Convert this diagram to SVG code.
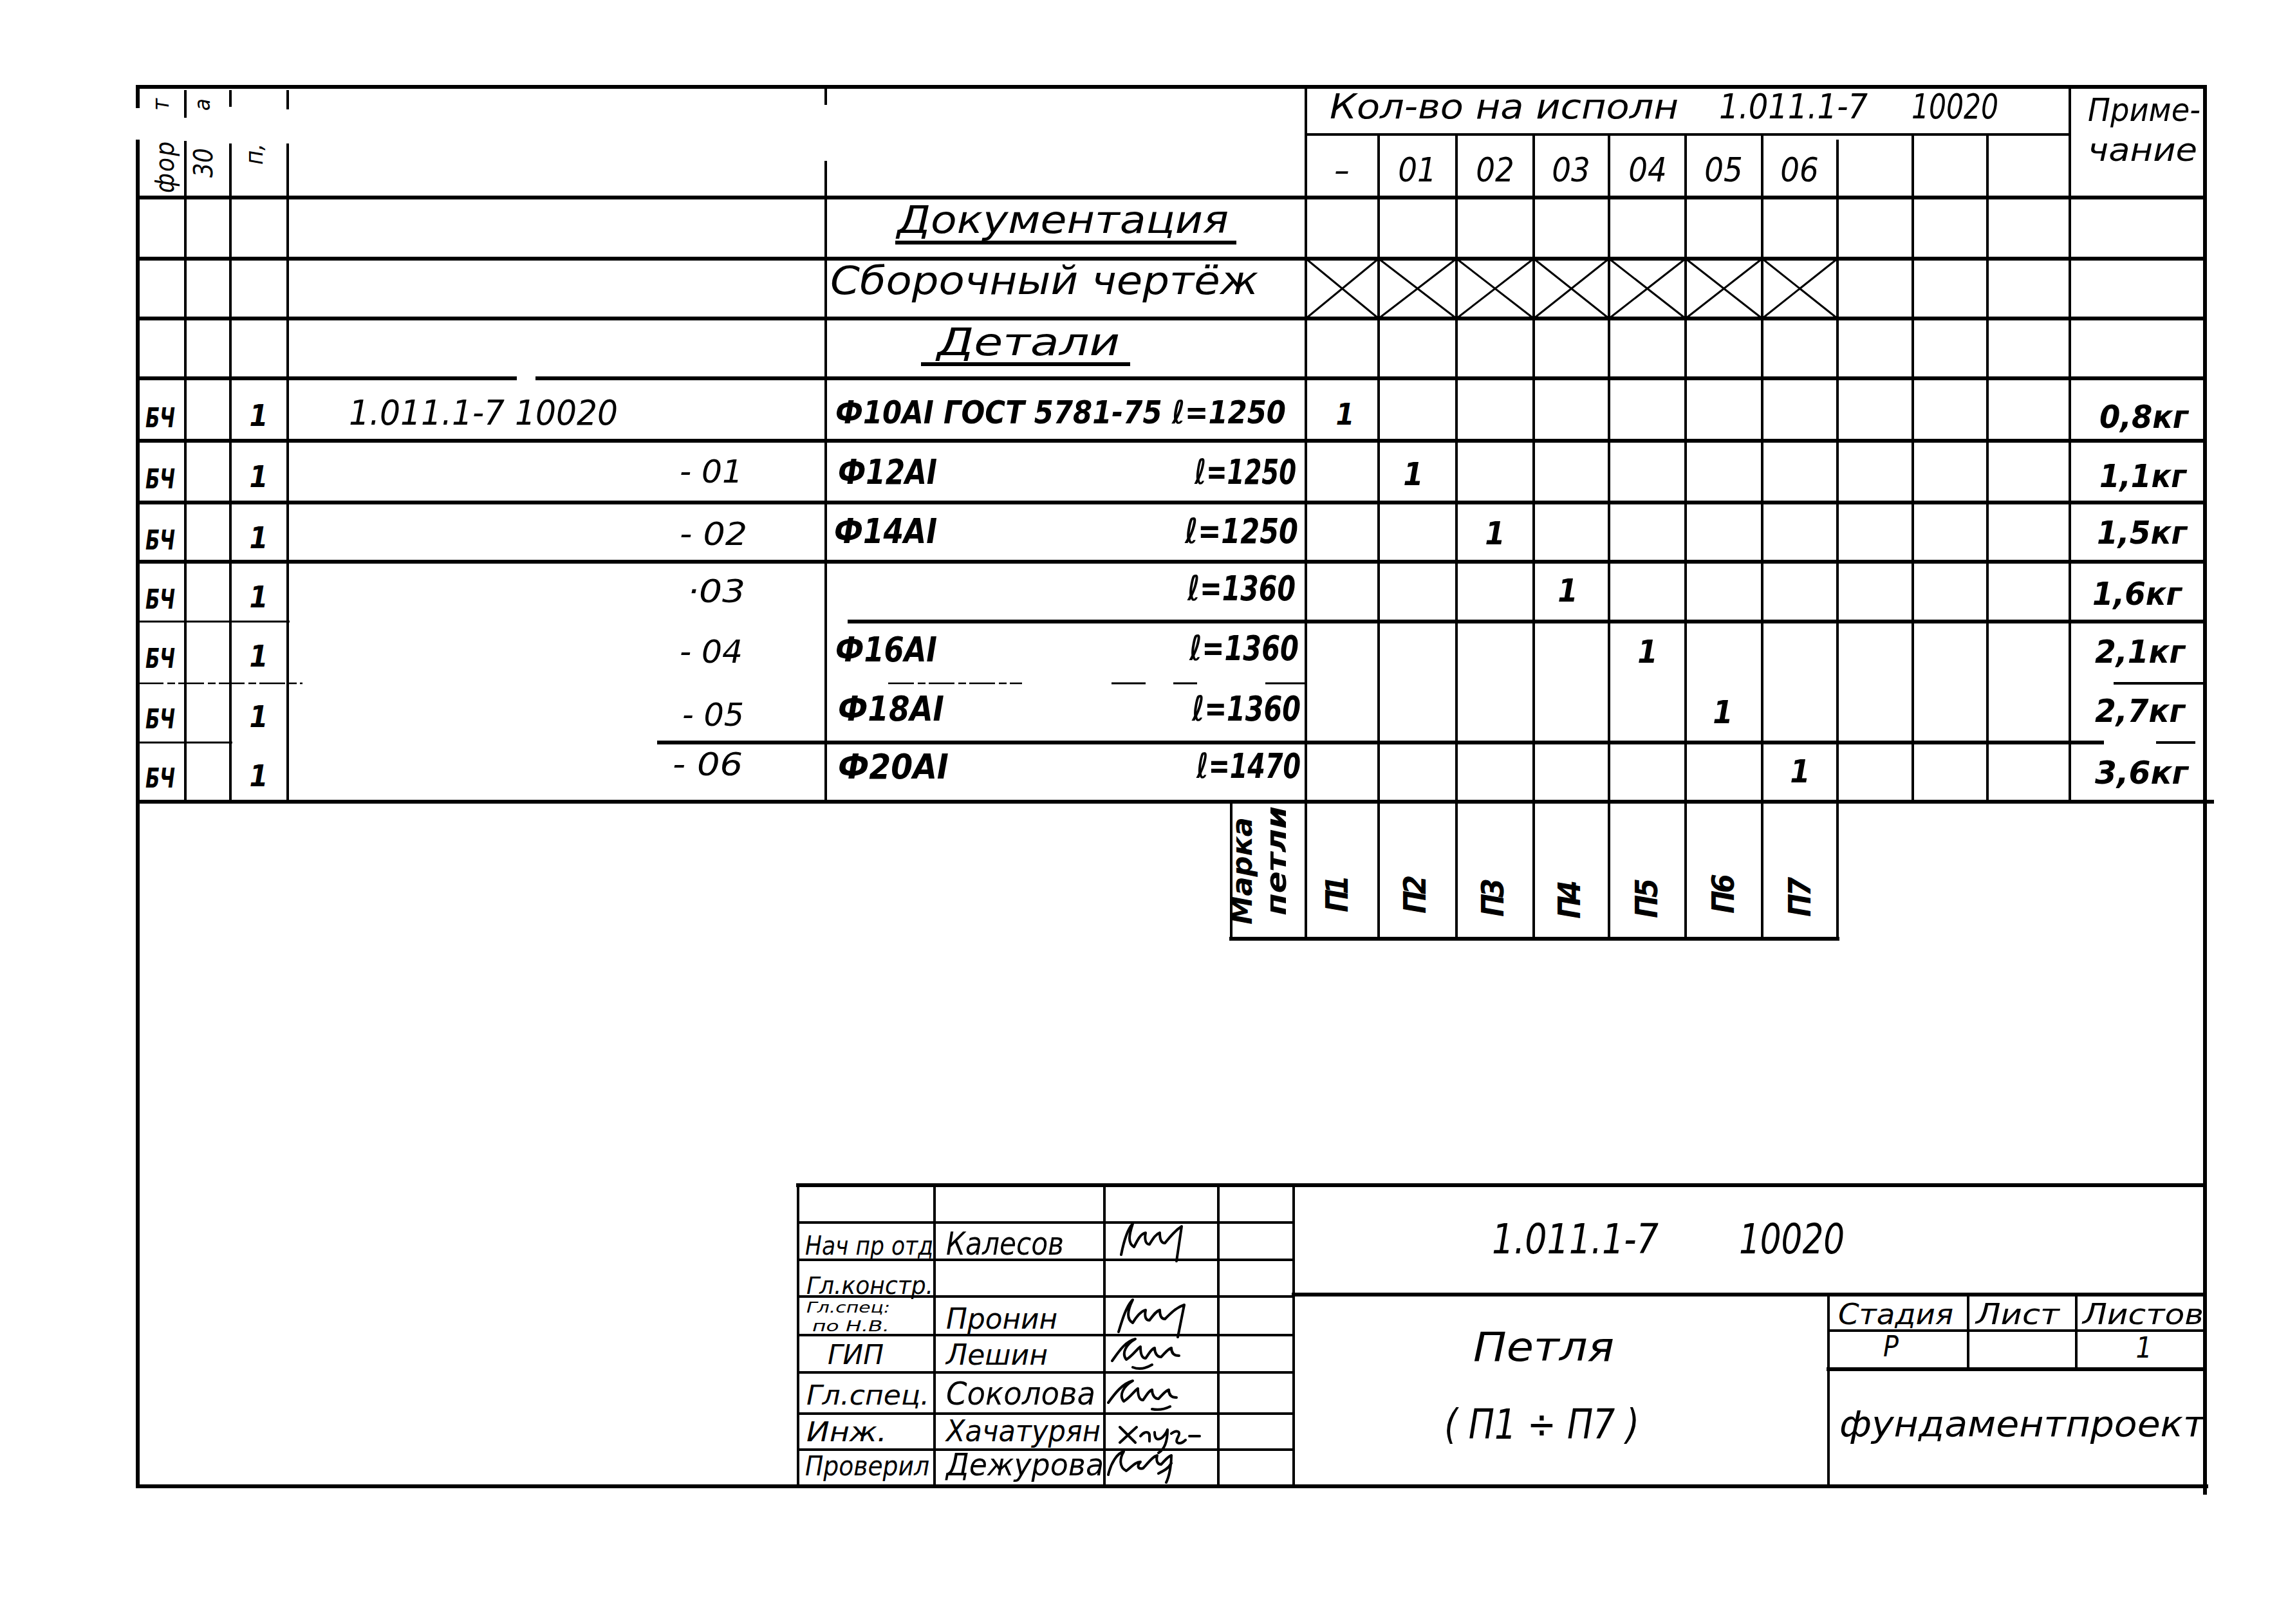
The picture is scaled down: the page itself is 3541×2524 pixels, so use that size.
<svg xmlns="http://www.w3.org/2000/svg" width="3541" height="2524" viewBox="0 0 3541 2524">
<style>
.bg{fill:#fff}
.k{stroke:#000;stroke-width:6;fill:none;stroke-linecap:square}
.m{stroke:#000;stroke-width:4;fill:none}
.n{stroke:#000;stroke-width:3;fill:none}
.f{stroke:#000;stroke-width:2.5;fill:none;stroke-dasharray:40 6 12 5}
.sig{stroke:#000;stroke-width:4;fill:none;stroke-linecap:round;stroke-linejoin:round}
text{font-family:"DejaVu Sans Condensed","DejaVu Sans","Liberation Sans",sans-serif;font-style:italic;fill:#000}
.b{font-weight:bold}
</style>
<rect class="bg" x="0" y="0" width="3541" height="2524"/>

<g id="grid">
<line class="k" x1="214" y1="135" x2="3426" y2="135"/>
<line class="k" x1="214" y1="135" x2="214" y2="165"/>
<line class="k" x1="214" y1="220" x2="214" y2="2310"/>
<line class="k" x1="3426" y1="135" x2="3426" y2="2320"/>
<line class="k" x1="214" y1="2310" x2="3428" y2="2310"/>
<line class="m" x1="288" y1="140" x2="288" y2="183"/><line class="m" x1="288" y1="219" x2="288" y2="1246"/>
<line class="m" x1="358" y1="140" x2="358" y2="166"/><line class="m" x1="358" y1="223" x2="358" y2="1246"/>
<line class="m" x1="447" y1="140" x2="447" y2="170"/><line class="m" x1="447" y1="223" x2="447" y2="1246"/>
<line class="m" x1="1283" y1="135" x2="1283" y2="163"/><line class="m" x1="1283" y1="250" x2="1283" y2="1246"/>
<line class="m" x1="2029" y1="135" x2="2029" y2="1459"/>
<line class="m" x1="2142" y1="209" x2="2142" y2="1459"/>
<line class="m" x1="2263" y1="209" x2="2263" y2="1459"/>
<line class="m" x1="2383" y1="209" x2="2383" y2="1459"/>
<line class="m" x1="2500" y1="209" x2="2500" y2="1459"/>
<line class="m" x1="2619" y1="209" x2="2619" y2="1459"/>
<line class="m" x1="2738" y1="209" x2="2738" y2="1459"/>
<line class="m" x1="2855" y1="217" x2="2855" y2="1459"/>
<line class="m" x1="2972" y1="209" x2="2972" y2="1246"/>
<line class="m" x1="3088" y1="209" x2="3088" y2="1246"/>
<line class="m" x1="3216" y1="135" x2="3216" y2="1246"/>
<line class="m" x1="2029" y1="209" x2="3216" y2="209"/>
<line class="k" x1="214" y1="307" x2="3426" y2="307"/>
<line class="k" x1="214" y1="402" x2="3426" y2="402"/>
<line class="k" x1="214" y1="495" x2="3426" y2="495"/>
<line class="k" x1="214" y1="588" x2="800" y2="588"/><line class="k" x1="835" y1="588" x2="3426" y2="588"/>
<line class="k" x1="214" y1="685" x2="3426" y2="685"/>
<line class="k" x1="214" y1="781" x2="3426" y2="781"/>
<line class="k" x1="214" y1="873" x2="3426" y2="873"/>
<line class="n" x1="214" y1="966" x2="450" y2="966"/><line class="k" x1="1320" y1="966" x2="3426" y2="966"/>
<line class="f" x1="214" y1="1062" x2="470" y2="1062"/>
<line class="f" x1="1380" y1="1062" x2="1588" y2="1062"/>
<line class="n" x1="1727" y1="1062" x2="1780" y2="1062"/>
<line class="n" x1="1823" y1="1062" x2="1860" y2="1062"/>
<line class="n" x1="1966" y1="1062" x2="2028" y2="1062"/>
<line class="m" x1="3284" y1="1062" x2="3424" y2="1062"/>
<line class="n" x1="214" y1="1154" x2="361" y2="1154"/>
<line class="k" x1="1024" y1="1154" x2="3266" y2="1154"/>
<line class="m" x1="3350" y1="1154" x2="3411" y2="1154"/>
<line class="k" x1="214" y1="1246" x2="3437" y2="1246"/>
<path class="n" d="M2029,402 L2142,495 M2142,402 L2029,495 M2142,402 L2263,495 M2263,402 L2142,495 M2263,402 L2383,495 M2383,402 L2263,495 M2383,402 L2500,495 M2500,402 L2383,495 M2500,402 L2619,495 M2619,402 L2500,495 M2619,402 L2738,495 M2738,402 L2619,495 M2738,402 L2855,495 M2855,402 L2738,495"/>
<line class="k" x1="1394" y1="377" x2="1918" y2="377"/>
<line class="k" x1="1434" y1="566" x2="1753" y2="566"/>
<line class="m" x1="1913" y1="1246" x2="1913" y2="1459"/>
<line class="k" x1="1913" y1="1459" x2="2855" y2="1459"/>
<line class="k" x1="1240" y1="1842" x2="3426" y2="1842"/>
<line class="m" x1="1240" y1="1842" x2="1240" y2="2310"/>
<line class="m" x1="1452" y1="1842" x2="1452" y2="2310"/>
<line class="m" x1="1716" y1="1842" x2="1716" y2="2310"/>
<line class="m" x1="1893" y1="1842" x2="1893" y2="2310"/>
<line class="m" x1="2010" y1="1842" x2="2010" y2="2310"/>
<line class="m" x1="1240" y1="1900" x2="2010" y2="1900"/>
<line class="m" x1="1240" y1="1958" x2="2010" y2="1958"/>
<line class="m" x1="1240" y1="2015" x2="2010" y2="2015"/>
<line class="m" x1="1240" y1="2075" x2="2010" y2="2075"/>
<line class="m" x1="1240" y1="2133" x2="2010" y2="2133"/>
<line class="m" x1="1240" y1="2197" x2="2010" y2="2197"/>
<line class="m" x1="1240" y1="2253" x2="2010" y2="2253"/>
<line class="k" x1="2010" y1="2012" x2="3426" y2="2012"/>
<line class="m" x1="2841" y1="2012" x2="2841" y2="2310"/>
<line class="m" x1="2841" y1="2068" x2="3426" y2="2068"/>
<line class="k" x1="2841" y1="2128" x2="3426" y2="2128"/>
<line class="m" x1="3058" y1="2012" x2="3058" y2="2128"/>
<line class="m" x1="3226" y1="2012" x2="3226" y2="2128"/>
</g>

<g id="header">
<text font-size="40" transform="translate(270,300) rotate(-90)" textLength="80">фор</text>
<text font-size="36" transform="translate(262,172) rotate(-90)">т</text>
<text font-size="40" transform="translate(330,276) rotate(-90)" textLength="46">30</text>
<text font-size="34" transform="translate(326,172) rotate(-90)">а</text>
<text font-size="38" transform="translate(408,256) rotate(-90)">п,</text>
<text x="2066" y="184" font-size="54" textLength="542" lengthAdjust="spacingAndGlyphs">Кол-во на исполн</text>
<text x="2671" y="184" font-size="54" textLength="231" lengthAdjust="spacingAndGlyphs">1.011.1-7</text>
<text x="2970" y="184" font-size="54" textLength="135" lengthAdjust="spacingAndGlyphs">10020</text>
<text x="3244" y="188" font-size="50" textLength="175" lengthAdjust="spacingAndGlyphs">Приме-</text>
<text x="3244" y="250" font-size="50" textLength="170" lengthAdjust="spacingAndGlyphs">чание</text>
<text x="2085" y="282" font-size="52" text-anchor="middle">–</text>
<text x="2202" y="282" font-size="52" text-anchor="middle">01</text>
<text x="2323" y="282" font-size="52" text-anchor="middle">02</text>
<text x="2441" y="282" font-size="52" text-anchor="middle">03</text>
<text x="2560" y="282" font-size="52" text-anchor="middle">04</text>
<text x="2678" y="282" font-size="52" text-anchor="middle">05</text>
<text x="2796" y="282" font-size="52" text-anchor="middle">06</text>
</g>

<g id="sections">
<text x="1394" y="362" font-size="58" textLength="515" lengthAdjust="spacingAndGlyphs">Документация</text>
<text x="1290" y="457" font-size="60" textLength="665" lengthAdjust="spacingAndGlyphs">Сборочный  чертёж</text>
<text x="1456" y="552" font-size="58" textLength="284" lengthAdjust="spacingAndGlyphs">Детали</text>
</g>

<g id="row1">
<text class="b" x="226" y="664" font-size="42" textLength="46" lengthAdjust="spacingAndGlyphs">БЧ</text>
<text class="b" x="402" y="662" font-size="46" text-anchor="middle">1</text>
<text x="542" y="660" font-size="54" textLength="418" lengthAdjust="spacingAndGlyphs">1.011.1-7 10020</text>
<text class="b" x="1298" y="658" font-size="50" textLength="700" lengthAdjust="spacingAndGlyphs">Ф10АI ГОСТ 5781-75 ℓ=1250</text>
<text class="b" x="2090" y="660" font-size="46" text-anchor="middle">1</text>
<text class="b" x="3262" y="665" font-size="50" textLength="138" lengthAdjust="spacingAndGlyphs">0,8кг</text>
</g>
<g id="row2">
<text class="b" x="226" y="759" font-size="42" textLength="46" lengthAdjust="spacingAndGlyphs">БЧ</text>
<text class="b" x="402" y="757" font-size="46" text-anchor="middle">1</text>
<text x="1056" y="750" font-size="50" textLength="98" lengthAdjust="spacingAndGlyphs">- 01</text>
<text class="b" x="1302" y="752" font-size="54" textLength="154" lengthAdjust="spacingAndGlyphs">Ф12АI</text>
<text class="b" x="1856" y="752" font-size="54" textLength="158" lengthAdjust="spacingAndGlyphs">ℓ=1250</text>
<text class="b" x="2196" y="754" font-size="50" text-anchor="middle">1</text>
<text class="b" x="3262" y="757" font-size="50" textLength="135" lengthAdjust="spacingAndGlyphs">1,1кг</text>
</g>
<g id="row3">
<text class="b" x="226" y="854" font-size="42" textLength="46" lengthAdjust="spacingAndGlyphs">БЧ</text>
<text class="b" x="402" y="852" font-size="46" text-anchor="middle">1</text>
<text x="1056" y="847" font-size="50" textLength="105" lengthAdjust="spacingAndGlyphs">- 02</text>
<text class="b" x="1296" y="844" font-size="54" textLength="160" lengthAdjust="spacingAndGlyphs">Ф14АI</text>
<text class="b" x="1841" y="844" font-size="54" textLength="176" lengthAdjust="spacingAndGlyphs">ℓ=1250</text>
<text class="b" x="2323" y="846" font-size="50" text-anchor="middle">1</text>
<text class="b" x="3258" y="845" font-size="50" textLength="140" lengthAdjust="spacingAndGlyphs">1,5кг</text>
</g>
<g id="row4">
<text class="b" x="226" y="946" font-size="42" textLength="46" lengthAdjust="spacingAndGlyphs">БЧ</text>
<text class="b" x="402" y="944" font-size="46" text-anchor="middle">1</text>
<text x="1068" y="936" font-size="50" textLength="90" lengthAdjust="spacingAndGlyphs">·03</text>
<text class="b" x="1845" y="933" font-size="54" textLength="168" lengthAdjust="spacingAndGlyphs">ℓ=1360</text>
<text class="b" x="2436" y="935" font-size="50" text-anchor="middle">1</text>
<text class="b" x="3251" y="940" font-size="50" textLength="139" lengthAdjust="spacingAndGlyphs">1,6кг</text>
</g>
<g id="row5">
<text class="b" x="226" y="1038" font-size="42" textLength="46" lengthAdjust="spacingAndGlyphs">БЧ</text>
<text class="b" x="402" y="1036" font-size="46" text-anchor="middle">1</text>
<text x="1056" y="1030" font-size="50" textLength="98" lengthAdjust="spacingAndGlyphs">- 04</text>
<text class="b" x="1298" y="1028" font-size="54" textLength="158" lengthAdjust="spacingAndGlyphs">Ф16АI</text>
<text class="b" x="1848" y="1026" font-size="54" textLength="170" lengthAdjust="spacingAndGlyphs">ℓ=1360</text>
<text class="b" x="2560" y="1030" font-size="50" text-anchor="middle">1</text>
<text class="b" x="3255" y="1030" font-size="50" textLength="140" lengthAdjust="spacingAndGlyphs">2,1кг</text>
</g>
<g id="row6">
<text class="b" x="226" y="1132" font-size="42" textLength="46" lengthAdjust="spacingAndGlyphs">БЧ</text>
<text class="b" x="402" y="1130" font-size="46" text-anchor="middle">1</text>
<text x="1060" y="1128" font-size="50" textLength="96" lengthAdjust="spacingAndGlyphs">- 05</text>
<text class="b" x="1302" y="1120" font-size="54" textLength="165" lengthAdjust="spacingAndGlyphs">Ф18АI</text>
<text class="b" x="1852" y="1120" font-size="54" textLength="169" lengthAdjust="spacingAndGlyphs">ℓ=1360</text>
<text class="b" x="2677" y="1124" font-size="50" text-anchor="middle">1</text>
<text class="b" x="3255" y="1122" font-size="50" textLength="140" lengthAdjust="spacingAndGlyphs">2,7кг</text>
</g>
<g id="row7">
<text class="b" x="226" y="1224" font-size="42" textLength="46" lengthAdjust="spacingAndGlyphs">БЧ</text>
<text class="b" x="402" y="1222" font-size="46" text-anchor="middle">1</text>
<text x="1045" y="1205" font-size="50" textLength="109" lengthAdjust="spacingAndGlyphs">- 06</text>
<text class="b" x="1302" y="1210" font-size="54" textLength="172" lengthAdjust="spacingAndGlyphs">Ф20АI</text>
<text class="b" x="1859" y="1209" font-size="54" textLength="162" lengthAdjust="spacingAndGlyphs">ℓ=1470</text>
<text class="b" x="2797" y="1216" font-size="50" text-anchor="middle">1</text>
<text class="b" x="3255" y="1218" font-size="50" textLength="145" lengthAdjust="spacingAndGlyphs">3,6кг</text>
</g>

<g id="marka">
<text class="b" font-size="44" transform="translate(1945,1437) rotate(-90)" textLength="167" lengthAdjust="spacingAndGlyphs">Марка</text>
<text class="b" font-size="44" transform="translate(1998,1423) rotate(-90)" textLength="170" lengthAdjust="spacingAndGlyphs">петли</text>
<text class="b" font-size="48" transform="translate(2094,1418) rotate(-90)" textLength="58">П1</text>
<text class="b" font-size="48" transform="translate(2215,1420) rotate(-90)" textLength="60">П2</text>
<text class="b" font-size="48" transform="translate(2336,1425) rotate(-90)" textLength="60">П3</text>
<text class="b" font-size="48" transform="translate(2455,1428) rotate(-90)" textLength="60">П4</text>
<text class="b" font-size="48" transform="translate(2575,1427) rotate(-90)" textLength="62">П5</text>
<text class="b" font-size="48" transform="translate(2694,1420) rotate(-90)" textLength="62">П6</text>
<text class="b" font-size="48" transform="translate(2813,1425) rotate(-90)" textLength="62">П7</text>
</g>

<g id="stamp-names">
<text x="1251" y="1950" font-size="40" textLength="199" lengthAdjust="spacingAndGlyphs">Нач пр отд</text>
<text x="1470" y="1950" font-size="50" textLength="183" lengthAdjust="spacingAndGlyphs">Калесов</text>
<text x="1253" y="2011" font-size="38" textLength="197" lengthAdjust="spacingAndGlyphs">Гл.констр.</text>
<text x="1253" y="2040" font-size="23" textLength="130" lengthAdjust="spacingAndGlyphs">Гл.спец:</text>
<text x="1262" y="2069" font-size="23" textLength="120" lengthAdjust="spacingAndGlyphs">по Н.В.</text>
<text x="1470" y="2065" font-size="44" textLength="173" lengthAdjust="spacingAndGlyphs">Пронин</text>
<text x="1286" y="2120" font-size="42" textLength="87" lengthAdjust="spacingAndGlyphs">ГИП</text>
<text x="1470" y="2121" font-size="44" textLength="158" lengthAdjust="spacingAndGlyphs">Лешин</text>
<text x="1253" y="2183" font-size="42" textLength="191" lengthAdjust="spacingAndGlyphs">Гл.спец.</text>
<text x="1470" y="2183" font-size="50" textLength="232" lengthAdjust="spacingAndGlyphs">Соколова</text>
<text x="1253" y="2240" font-size="42" textLength="125" lengthAdjust="spacingAndGlyphs">Инж.</text>
<text x="1470" y="2240" font-size="46" textLength="240" lengthAdjust="spacingAndGlyphs">Хачатурян</text>
<text x="1251" y="2293" font-size="42" textLength="193" lengthAdjust="spacingAndGlyphs">Проверил</text>
<text x="1470" y="2293" font-size="48" textLength="245" lengthAdjust="spacingAndGlyphs">Дежурова</text>
</g>

<g id="signatures">
<path class="sig" d="M1742,1950 c4,-20 10,-40 18,-48 c-6,18 -8,30 2,36 c6,-12 10,-20 18,-22 c-2,10 0,18 6,18 c6,-10 10,-16 16,-18 c0,8 2,16 8,16 c8,-10 16,-20 26,-26 l-8,54"/>
<path class="sig" d="M1738,2070 c6,-20 12,-40 22,-50 c-8,16 -10,30 0,36 c6,-10 12,-18 20,-20 c-2,10 0,16 6,16 c6,-8 10,-14 16,-16 c0,8 2,14 8,14 c10,-10 18,-18 30,-22 l-10,50"/>
<path class="sig" d="M1728,2115 c10,-14 20,-30 36,-34 c-14,8 -22,22 -14,32 c10,-6 16,-16 22,-20 c0,10 2,18 8,18 c6,-8 8,-14 14,-16 c0,8 4,14 10,14 c6,-6 10,-12 16,-14 c0,8 4,12 12,12 M1760,2125 c10,4 20,2 30,-4"/>
<path class="sig" d="M1722,2180 c10,-14 22,-30 38,-34 c-14,8 -22,22 -14,32 c10,-6 16,-16 22,-20 c0,10 2,18 8,18 c6,-8 8,-14 14,-16 c0,8 4,14 10,14 c6,-6 10,-12 16,-14 c0,8 4,12 12,12 M1790,2190 c10,2 20,0 28,-4"/>
<path class="sig" d="M1740,2218 l24,24 M1766,2218 l-26,24 M1772,2232 c6,-8 14,-8 14,0 l0,8 M1794,2226 c0,10 4,14 12,8 c6,-6 8,-12 8,-12 c0,16 -4,30 -14,36 M1820,2228 c8,-6 16,-4 10,6 c-6,10 4,12 12,4 M1848,2232 l16,0"/>
<path class="sig" d="M1722,2292 c4,-18 14,-34 24,-36 c-6,10 -8,24 4,30 c8,-6 14,-14 22,-14 c-6,6 -4,12 4,10 c8,-8 14,-18 22,-20 c-2,8 0,14 6,14 c6,-6 10,-12 16,-14 c0,10 -2,30 -8,42 M1800,2290 c8,-4 16,-8 20,-16"/>
</g>

<g id="stamp-title">
<text x="2318" y="1948" font-size="64" textLength="259" lengthAdjust="spacingAndGlyphs">1.011.1-7</text>
<text x="2702" y="1948" font-size="64" textLength="164" lengthAdjust="spacingAndGlyphs">10020</text>
<text x="2289" y="2115" font-size="62" textLength="219" lengthAdjust="spacingAndGlyphs">Петля</text>
<text x="2244" y="2236" font-size="64" textLength="303" lengthAdjust="spacingAndGlyphs">( П1 ÷ П7 )</text>
<text x="2856" y="2058" font-size="44" textLength="179" lengthAdjust="spacingAndGlyphs">Стадия</text>
<text x="3070" y="2058" font-size="44" textLength="130" lengthAdjust="spacingAndGlyphs">Лист</text>
<text x="3236" y="2058" font-size="44" textLength="188" lengthAdjust="spacingAndGlyphs">Листов</text>
<text x="2938" y="2108" font-size="44" text-anchor="middle">Р</text>
<text x="3331" y="2110" font-size="44" text-anchor="middle">1</text>
<text x="2858" y="2232" font-size="56" textLength="568" lengthAdjust="spacingAndGlyphs">фундаментпроект</text>
</g>
</svg>
